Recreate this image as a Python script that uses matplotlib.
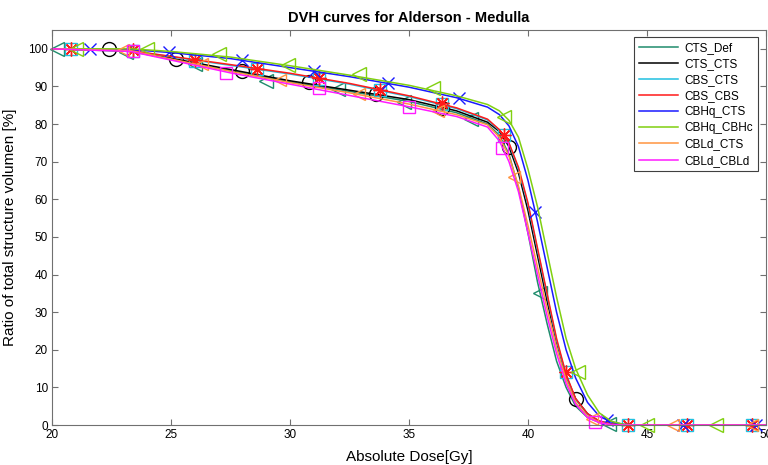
import numpy as np
import matplotlib
matplotlib.use('Agg')
import matplotlib.pyplot as plt

plt.rcParams['font.family'] = ['Liberation Sans', 'DejaVu Sans']

# DVH line knots (dose in Gy, volume in %)
dose = [20, 23.3, 25, 27.5, 30, 32.5, 35, 37, 38.3, 38.8, 39.2, 39.6, 40.0, 40.4,
        40.8, 41.2, 41.6, 42.0, 42.5, 43.0, 43.5, 44.0, 44.5, 50]

cts_def    = [100, 99.3, 97.3, 94.2, 91.2, 88.7, 86.0, 83.0, 80.0, 77.0, 72.0, 63.0, 51.0, 38.0,
              27.0, 17.0, 10.0, 5.0, 2.0, 0.7, 0.1, 0, 0, 0]
cts_cts    = [100, 99.5, 97.5, 94.5, 91.5, 89.0, 86.5, 83.5, 80.5, 78.0, 74.0, 67.0, 57.0, 45.0,
              33.0, 22.0, 13.0, 7.0, 3.0, 1.0, 0.3, 0, 0, 0]
cbs_cts    = [100, 99.5, 97.9, 95.6, 93.3, 90.6, 87.3, 84.1, 81.1, 78.3, 74.8, 68.0, 58.5, 46.5,
              34.5, 22.5, 13.2, 6.8, 2.9, 1.0, 0.3, 0, 0, 0]
cbs_cbs    = [100, 99.5, 98.0, 95.8, 93.5, 90.8, 87.5, 84.3, 81.3, 78.5, 75.0, 68.5, 59.0, 47.0,
              35.0, 23.0, 13.5, 7.0, 3.0, 1.0, 0.3, 0, 0, 0]
cbhq_cts   = [100, 99.8, 99.0, 97.4, 95.0, 92.6, 89.8, 87.0, 84.5, 82.5, 79.5, 74.0, 65.0, 54.0,
              42.0, 30.0, 20.0, 12.5, 6.0, 2.3, 0.8, 0.2, 0, 0]
cbhq_cbhc  = [100, 100, 99.3, 97.8, 95.5, 93.0, 90.3, 87.5, 85.2, 83.5, 81.0, 76.5, 68.0, 58.0,
              46.0, 34.0, 23.0, 15.0, 8.0, 3.2, 1.0, 0.2, 0, 0]
cbld_cts   = [100, 99.5, 97.3, 94.0, 91.0, 88.3, 85.3, 82.5, 79.8, 76.5, 71.5, 63.5, 53.0, 42.0,
              31.0, 20.5, 12.0, 6.0, 2.3, 0.7, 0.1, 0, 0, 0]
cbld_cbld  = [100, 99.3, 97.0, 93.6, 90.6, 87.6, 84.6, 82.0, 79.2, 75.5, 70.0, 62.0, 51.0, 40.0,
              29.0, 19.0, 11.0, 5.5, 2.0, 0.6, 0.1, 0, 0, 0]

# marker positions
mk_cts_def_x   = [20.2, 23.1, 26.0, 29.0, 32.0, 34.8, 37.6, 40.5, 43.4]
mk_cts_def_y   = [100, 99.2, 96.0, 91.5, 89.2, 85.8, 81.3, 35.0, 0.2]
mk_cts_cts_x   = [22.4, 25.2, 28.0, 30.8, 33.6, 36.4, 39.2, 42.0]
mk_cts_cts_y   = [100, 97.3, 94.1, 91.2, 88.0, 84.3, 74.0, 7.0]
mk_cbs_x       = [20.8, 23.4, 26.0, 28.6, 31.2, 33.8, 36.4, 39.0, 41.6, 44.2, 46.7, 49.4]
mk_cbs_cts_y   = [100, 99.5, 96.8, 94.5, 92.0, 89.0, 85.3, 77.0, 14.0, 0, 0, 0]
mk_cbs_cbs_y   = [100, 99.6, 97.0, 94.7, 92.3, 89.1, 85.6, 77.1, 14.1, 0, 0, 0]
mk_cbhq_cts_x  = [21.6, 24.9, 28.0, 31.0, 34.1, 37.1, 40.3, 43.3, 46.5, 49.6]
mk_cbhq_cts_y  = [100, 99.2, 97.1, 94.2, 91.0, 87.0, 56.7, 1.3, 0, 0]
mk_cbhq_cbhc_x = [21.0, 24.0, 27.0, 29.9, 32.9, 36.0, 39.0, 42.1, 45.0, 47.9]
mk_cbhq_cbhc_y = [100, 99.9, 98.5, 95.8, 93.2, 89.6, 82.0, 14.1, 0, 0]
mk_cbld_cts_x  = [23.0, 26.3, 29.6, 32.9, 36.2, 39.4, 42.7, 46.1, 49.4]
mk_cbld_cts_y  = [99.6, 96.0, 91.6, 88.0, 83.4, 66.0, 1.5, 0, 0]
mk_cbld_cbld_x = [23.4, 27.3, 31.2, 35.0, 38.9, 42.8]
mk_cbld_cbld_y = [99.3, 93.6, 89.6, 84.6, 73.5, 0.7]

series = [
    ('CTS_Def',   cts_def,   mk_cts_def_x,   mk_cts_def_y,   '#1f8c6c', '<', 10),
    ('CTS_CTS',   cts_cts,   mk_cts_cts_x,   mk_cts_cts_y,   '#000000', 'o', 10),
    ('CBS_CTS',   cbs_cts,   mk_cbs_x,       mk_cbs_cts_y,   '#20c0e0', 's', 8),
    ('CBS_CBS',   cbs_cbs,   mk_cbs_x,       mk_cbs_cbs_y,   '#ff1a1a', (8, 2, 0), 10),
    ('CBHq_CTS',  cbhq_cts,  mk_cbhq_cts_x,  mk_cbhq_cts_y,  '#1a1aff', 'x', 9),
    ('CBHq_CBHc', cbhq_cbhc, mk_cbhq_cbhc_x, mk_cbhq_cbhc_y, '#80d010', '<', 10),
    ('CBLd_CTS',  cbld_cts,  mk_cbld_cts_x,  mk_cbld_cts_y,  '#ff9440', '<', 9),
    ('CBLd_CBLd', cbld_cbld, mk_cbld_cbld_x, mk_cbld_cbld_y, '#ff1aff', 's', 8),
]

fig = plt.figure(figsize=(7.68, 4.65), dpi=100)
ax = fig.add_axes([52 / 768, 40 / 465, 714 / 768, 395 / 465])

handles = []
for name, vol, mx, my, col, mk, ms in series:
    h, = ax.plot(dose, vol, color=col, lw=1.1, label=name, clip_on=False)
    ax.plot(mx, my, linestyle='none', marker=mk, markersize=ms, markerfacecolor='none',
            markeredgecolor=col, markeredgewidth=1.0, clip_on=False)
    handles.append(h)

ax.set_xlim(20, 50)
ax.set_ylim(0, 105)
ax.set_xticks(np.arange(20, 51, 5))
ax.set_yticks(np.arange(0, 101, 10))
ax.tick_params(direction='in', top=True, right=True, length=4, width=0.8,
               color='#707070', labelsize=8.5, pad=3)
for s in ax.spines.values():
    s.set_color('#707070')
    s.set_linewidth(0.8)

ax.set_title('DVH curves for Alderson - Medulla', fontsize=10.5, fontweight='bold', pad=6)
ax.set_xlabel('Absolute Dose[Gy]', fontsize=11, labelpad=6)
ax.set_ylabel('Ratio of total structure volumen [%]', fontsize=11, labelpad=8)

leg = ax.legend(handles=handles, loc='upper right', bbox_to_anchor=(758 / 768, 1 - 37 / 465),
                bbox_transform=fig.transFigure, fancybox=False, edgecolor='#404040',
                framealpha=1, fontsize=8.5, handlelength=3.3, labelspacing=0.35,
                borderaxespad=0, borderpad=0.4, handletextpad=0.6)
leg.get_frame().set_linewidth(0.8)
leg.set_zorder(5)

fig.savefig('out.png', dpi=100)
